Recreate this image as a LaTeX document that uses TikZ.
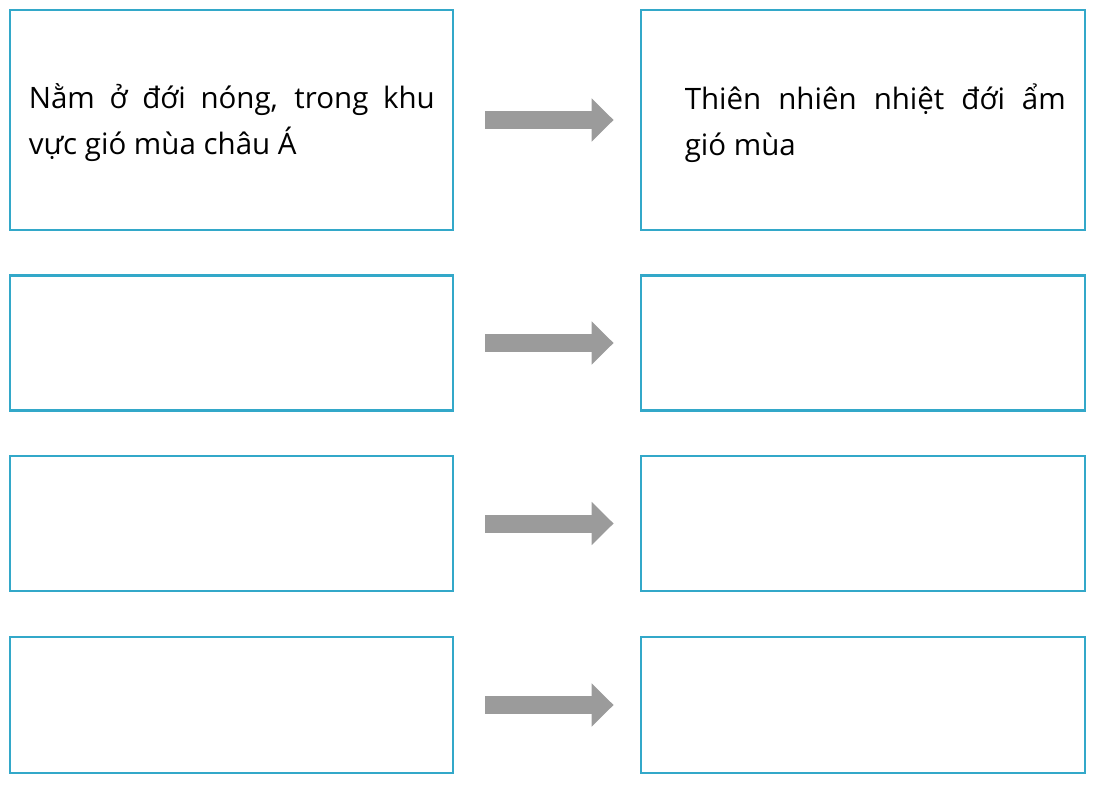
\documentclass[tikz,border=0pt]{standalone}
\usepackage{fontspec}
\setmainfont{Open Sans}
\usetikzlibrary{arrows.meta}
\definecolor{boxblue}{HTML}{33A8C9}
\definecolor{arrowgray}{HTML}{9B9B9B}

\begin{document}
\begin{tikzpicture}[x=1pt,y=-1pt,
                  box/.style={draw=boxblue, line width=2.8pt, inner sep=0pt},
                  leftbox/.style={box, minimum width=443pt},
                  rightbox/.style={box, minimum width=444pt},
                  txt/.style={font=\fontsize{29.5}{46}\selectfont, text width=#1,
                              align=justify, inner sep=0pt},
                  fat/.style={draw=arrowgray, line width=18pt,
                              -{Triangle[length=22pt,width=42pt]},
                              shorten <=31pt, shorten >=26pt}]
            \useasboundingbox (0,0) rectangle (1096,786);
            % left column
            \node[leftbox, minimum height=220pt] (l1) at (231.5,120) {};
            \node[leftbox, minimum height=135pt] (l2) at (231.5,343) {};
            \node[leftbox, minimum height=135pt] (l3) at (231.5,523.5) {};
            \node[leftbox, minimum height=136pt] (l4) at (231.5,705) {};
            % right column
            \node[rightbox, minimum height=220pt] (r1) at (863,120) {};
            \node[rightbox, minimum height=135pt] (r2) at (863,343) {};
            \node[rightbox, minimum height=135pt] (r3) at (863,523.5) {};
            \node[rightbox, minimum height=136pt] (r4) at (863,705) {};
            % texts
            \node[txt=406pt, anchor=west] (cause) at ([xshift=20pt,yshift=-3pt]l1.west)
                  {Nằm ở đới nóng, trong khu\linebreak vực gió mùa châu Á};
            \node[txt=381pt, anchor=west] (effect) at ([xshift=45pt,yshift=-3pt]r1.west)
                  {Thiên nhiên nhiệt đới ẩm\linebreak gió mùa};
            % arrows
            \draw[fat] (l1.east) -- (r1.west);
            \draw[fat] (l2.east) -- (r2.west);
            \draw[fat] (l3.east) -- (r3.west);
            \draw[fat] (l4.east) -- (r4.west);
      \end{tikzpicture}
\end{document}
